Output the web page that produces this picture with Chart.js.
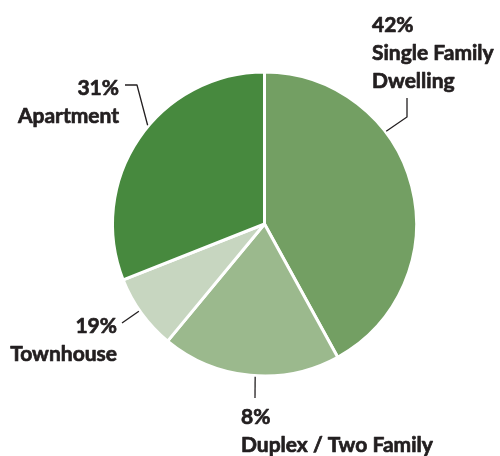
<!DOCTYPE html>
<html>
<head>
<meta charset="utf-8">
<script src="https://cdn.jsdelivr.net/npm/chart.js@4/dist/chart.umd.min.js"></script>
<style>
html,body{margin:0;padding:0;background:#fff;}
#wrap{width:500px;height:456px;}
</style>
</head>
<body>
<div id="wrap"><canvas id="c" width="500" height="456"></canvas></div>
<script>
const categories = ["Single Family Dwelling", "Duplex / Two Family", "Townhouse", "Apartment"];
const values = [42, 19, 8, 31];
const colors = ["#739f63", "#9bb98d", "#c7d6c0", "#47893e"];
// label text as printed in the picture
const labelPercents = ["42%", "8%", "19%", "31%"];
const labelLines = [["Single Family", "Dwelling"], ["Duplex / Two Family"], ["Townhouse"], ["Apartment"]];

// label layout: anchor angle (deg clockwise from top), leader elbow points, text anchor
const labelLayout = [
  {angle: 52.7, pts: [[407,117],[407,98]], tx: 372, ty: 32, align: "left"},
  {angle: 183.5, pts: [[255,398]], tx: 241, ty: 424, align: "left"},
  {angle: 235.2, pts: [[122,323]], tx: 117, ty: 333, align: "right"},
  {angle: 310.2, pts: [[137,85],[125,85]], tx: 119, ty: 95, align: "right"}
];

const labelPlugin = {
  id: "labels",
  afterDraw(chart) {
    const ctx = chart.ctx;
    const arc = chart.getDatasetMeta(0).data[0];
    const cx = arc.x, cy = arc.y, r = arc.outerRadius;
    ctx.save();
    ctx.strokeStyle = "#231f20";
    ctx.fillStyle = "#231f20";
    ctx.font = "bold 21px Lato";
    labelLayout.forEach((L, i) => {
      const a = L.angle * Math.PI / 180;
      const sx = cx + Math.sin(a) * (r + 1);
      const sy = cy - Math.cos(a) * (r + 1);
      ctx.lineWidth = 1.3;
      ctx.beginPath();
      ctx.moveTo(sx, sy);
      L.pts.forEach(p => ctx.lineTo(p[0], p[1]));
      ctx.stroke();
      ctx.textAlign = L.align;
      ctx.textBaseline = "alphabetic";
      ctx.lineWidth = 0.7;
      ctx.lineJoin = "round";
      const lines = [labelPercents[i]].concat(labelLines[i]);
      lines.forEach((t, k) => {
        ctx.fillText(t, L.tx, L.ty + k * 28);
        ctx.strokeText(t, L.tx, L.ty + k * 28);
      });
    });
    ctx.restore();
  }
};

new Chart(document.getElementById("c"), {
  type: "pie",
  data: {
    labels: categories,
    datasets: [{
      data: values,
      backgroundColor: colors,
      borderColor: "#ffffff",
      borderWidth: 3,
      hoverOffset: 0
    }]
  },
  options: {
    responsive: false,
    animation: false,
    layout: {padding: {left: 111, right: 82, top: 70.5, bottom: 78.5}},
    plugins: {legend: {display: false}, tooltip: {enabled: false}}
  },
  plugins: [labelPlugin]
});
</script>
</body>
</html>
